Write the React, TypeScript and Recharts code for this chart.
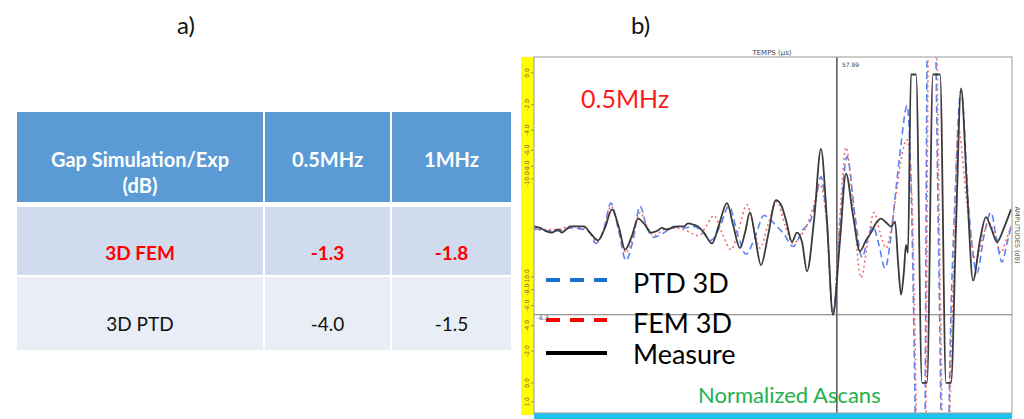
import React from 'react';
import { LineChart, Line, XAxis, YAxis, ReferenceLine } from 'recharts';

// Table a)
const tableHeader = ['Gap Simulation/Exp\n(dB)', '0.5MHz', '1MHz'];
const femRow = ['3D FEM', '-1.3', '-1.8'];
const ptdRow = ['3D PTD', '-4.0', '-1.5'];

// A-scans b) : time (µs) and normalized amplitude
const measureT = [37.8, 38.2, 38.6, 39.0, 39.4, 39.67, 39.93, 40.27, 40.67, 41.13, 41.53, 42.07, 42.53, 43.0, 43.47, 43.87, 44.33, 44.73, 45.2, 45.6, 46.0, 46.33, 46.67, 47.0, 47.4, 47.8, 48.07, 48.47, 48.73, 49.13, 49.67, 50.13, 50.67, 51.07, 51.53, 51.87, 52.2, 52.53, 52.93, 53.4, 53.93, 54.27, 54.6, 55.0, 55.33, 55.67, 56.0, 56.47, 56.93, 57.33, 57.73, 58.2, 58.6, 59.07, 59.53, 59.93, 60.27, 60.6, 60.93, 61.33, 61.6, 61.87, 62.07, 62.27, 62.47, 62.6, 62.73, 62.93, 63.27, 63.67, 64.0, 64.4, 64.87, 65.27, 65.6, 65.93, 66.27, 66.67, 67.07, 67.53, 67.93, 68.27, 68.67, 69.13, 69.6];
const measureA = [0.01, 0, -0.02, -0.03, -0.01, -0.03, -0.01, 0.01, 0.01, 0.01, -0.03, -0.08, 0, 0.12, 0, -0.14, -0.05, 0.06, 0.02, -0.03, -0.02, 0, -0.01, 0, 0.01, 0.01, 0.03, 0.02, 0.01, -0.03, -0.1, 0.02, 0.16, 0.02, -0.13, -0.03, 0.1, -0.05, -0.24, -0.05, 0.18, 0.15, 0.05, -0.09, -0.03, -0.09, -0.28, 0.05, 0.51, 0.05, -0.56, -0.08, 0.35, 0.08, -0.15, -0.08, -0.03, 0.03, 0.06, 0.03, 0.01, 0.04, -0.22, -0.43, -0.27, -0.11, -0.16, 0.99, 0.99, -1.0, -1.0, 0.99, 0.99, -1.0, -1.0, -0.01, 0.9, 0.25, -0.34, -0.08, 0.07, 0, -0.09, 0, 0.12];

const ptdT = [37.8, 38.6, 39.4, 40.2, 41.13, 41.53, 41.93, 42.47, 42.93, 43.47, 43.93, 44.4, 44.87, 45.33, 45.8, 46.47, 47.13, 47.8, 48.47, 49.07, 49.6, 50.2, 50.8, 51.4, 51.93, 52.53, 53.13, 53.8, 54.47, 55.07, 55.73, 56.2, 56.53, 56.93, 57.33, 57.73, 58.2, 58.67, 59.2, 59.67, 60.07, 60.4, 60.8, 61.2, 61.6, 61.93, 62.27, 62.67, 62.93, 63.2, 63.53, 63.87, 64.0, 64.33, 64.6, 64.93, 65.2, 65.47, 65.87, 66.27, 66.8, 67.33, 67.8, 68.27, 68.6, 69.0, 69.33, 69.6];
const ptdA = [0, -0.02, -0.02, 0, -0.01, -0.03, -0.1, 0, 0.16, -0.03, -0.21, -0.08, 0.14, 0, -0.06, -0.03, 0.01, 0, 0.01, -0.03, -0.08, 0.01, 0.14, -0.05, -0.17, -0.06, 0.08, 0.03, -0.04, -0.12, -0.01, 0.04, 0.15, 0.33, 0.02, -0.56, 0.02, 0.46, 0.08, -0.19, -0.06, 0.01, -0.11, -0.26, -0.05, 0.25, 0.54, 0.79, 0.31, -1.11, -3.5, -1.2, 1.1, 3.5, 1.1, -1.2, -3.5, -1.2, 0.2, 0.89, 0.1, -0.29, -0.05, 0.1, -0.05, -0.22, -0.1, 0.01];

const femT = [37.8, 38.6, 39.4, 40.2, 41.13, 41.53, 42.0, 42.47, 42.93, 43.47, 43.93, 44.4, 44.87, 45.33, 45.8, 46.47, 47.13, 47.8, 48.2, 48.8, 49.27, 49.8, 50.33, 50.93, 51.47, 52.0, 52.4, 52.87, 53.4, 54.0, 54.53, 55.07, 55.53, 56.0, 56.47, 56.87, 57.33, 57.73, 58.2, 58.6, 59.13, 59.6, 60.07, 60.47, 60.87, 61.27, 61.6, 61.93, 62.27, 62.67, 63.0, 63.27, 63.6, 63.93, 64.07, 64.4, 64.67, 65.0, 65.27, 65.53, 65.8, 66.07, 66.67, 67.27, 67.73, 68.13, 68.53, 68.93, 69.27, 69.6];
const femA = [-0.01, -0.01, -0.01, 0.01, 0, -0.03, -0.09, -0.01, 0.14, -0.01, -0.16, -0.05, 0.1, 0.01, -0.05, -0.01, 0, -0.01, -0.03, -0.05, 0.01, 0.08, -0.03, -0.14, 0, 0.15, 0.02, -0.13, 0.02, 0.17, 0.02, -0.1, -0.06, 0.02, 0.15, 0.28, 0.02, -0.56, 0.08, 0.52, 0.08, -0.32, -0.08, 0.1, -0.03, -0.13, -0.01, 0.21, 0.44, 0.57, 0.18, -1.11, -3.5, -1.2, 1.1, 3.5, 1.1, -1.2, -3.5, -1.2, -0.2, 0.65, 0.15, -0.21, -0.05, 0.03, -0.05, -0.16, -0.08, 0.01];

// amplitude ticks in dB (upper and lower half of the A-scan)
const dbTop = [0, -2, -4, -6, -8, -10];
const dbBottom = [-10, -8, -6, -4, -2, 0, 1];

const cursorTime = 57.99;
const cursorAmp = -0.56;

const toSeries = (ts: number[], as: number[]) => ts.map((t, i) => ({ t, a: as[i] }));
const measureData = toSeries(measureT, measureA);
const ptdData = toSeries(ptdT, ptdA);
const femData = toSeries(femT, femA);

const yTicks = [
  ...dbTop.map((d) => Math.pow(10, d / 20)),
  ...dbBottom.map((d) => -Math.pow(10, d / 20)),
];
const yLabels = [...dbTop, ...dbBottom].map((d) => d.toFixed(1));

const AmpTick = (props: any) => {
  const { y, payload } = props;
  const i = yTicks.findIndex((v) => Math.abs(v - payload.value) < 1e-6);
  return (
    <g>
      <text
        transform={`translate(9,${y}) rotate(-90)`}
        textAnchor="middle"
        fontSize={6}
        fill="#666"
        fontFamily="DejaVu Sans"
      >
        {yLabels[i]}
      </text>
      <line x1={11} x2={14} y1={y} y2={y} stroke="#777" strokeWidth={0.8} />
    </g>
  );
};

const abs = (l: number, t: number, extra: React.CSSProperties = {}): React.CSSProperties => ({
  position: 'absolute',
  left: l,
  top: t,
  ...extra,
});

const cols = [
  { x: 17, w: 246 },
  { x: 265, w: 125 },
  { x: 392, w: 119 },
];

const App = () => {
  return (
    <div
      style={{
        position: 'absolute',
        left: 0,
        top: 0,
        width: 1024,
        height: 419,
        overflow: 'hidden',
        background: '#fff',
        fontFamily: 'Lato, sans-serif',
      }}
    >
      <div style={abs(177, 13, { fontSize: 24, lineHeight: 1, color: '#111' })}>a)</div>
      <div style={abs(631, 13, { fontSize: 24, lineHeight: 1, color: '#111' })}>b)</div>

      {/* table */}
      {cols.map((c, i) => (
        <React.Fragment key={i}>
          <div style={abs(c.x, 112, { width: c.w, height: 90, background: '#5b9bd5' })} />
          <div style={abs(c.x, 207, { width: c.w, height: 68, background: '#d0dbee' })} />
          <div style={abs(c.x, 277, { width: c.w, height: 73, background: '#e9edf6' })} />
          <div
            style={abs(c.x, 146, {
              width: c.w,
              textAlign: 'center',
              color: '#fff',
              fontWeight: 700,
              fontSize: 20,
              lineHeight: '26px',
              whiteSpace: 'pre',
            })}
          >
            {tableHeader[i]}
          </div>
          <div
            style={abs(c.x, 243, {
              width: c.w,
              textAlign: 'center',
              color: '#ff0000',
              fontWeight: 700,
              fontSize: 19,
              lineHeight: 1,
            })}
          >
            {femRow[i]}
          </div>
          <div
            style={abs(c.x, 314, {
              width: c.w,
              textAlign: 'center',
              color: '#111',
              fontSize: 19,
              lineHeight: 1,
            })}
          >
            {ptdRow[i]}
          </div>
        </React.Fragment>
      ))}

      {/* A-scan */}
      <div style={abs(521, 57, { width: 13, height: 358, background: '#ffff00' })} />
      <div style={abs(534, 413, { width: 478, height: 6, background: '#1cc4ee' })} />
      <div style={abs(520, 40)}>
        <LineChart width={504} height={379} margin={{ top: 17, right: 12, bottom: 6, left: 0 }}>
          <XAxis dataKey="t" type="number" domain={[37.8, 69.667]} allowDataOverflow hide />
          <YAxis
            type="number"
            domain={[-1.194, 1.103]}
            allowDataOverflow
            ticks={yTicks}
            tick={<AmpTick />}
            axisLine={false}
            tickLine={false}
            width={14}
            interval={0}
          />
          <ReferenceLine x={cursorTime} stroke="#555" strokeWidth={1.5} />
          <ReferenceLine y={cursorAmp} stroke="#777" strokeWidth={1} />
          <Line
            data={ptdData}
            dataKey="a"
            type="monotone"
            stroke="#5b82f0"
            strokeWidth={1.6}
            strokeDasharray="7 4"
            dot={false}
            isAnimationActive={false}
          />
          <Line
            data={femData}
            dataKey="a"
            type="monotone"
            stroke="#f26d6d"
            strokeWidth={1.6}
            strokeDasharray="2 3"
            dot={false}
            isAnimationActive={false}
          />
          <Line
            data={measureData}
            dataKey="a"
            type="monotone"
            stroke="#3a3a3a"
            strokeWidth={1.8}
            dot={false}
            isAnimationActive={false}
          />
        </LineChart>
      </div>

      <svg width={1024} height={419} style={abs(0, 0, { pointerEvents: 'none' })}>
        <rect x={534} y={57} width={478} height={356} fill="none" stroke="#999" strokeWidth={1} />
        <line x1={546} x2={607} y1={280} y2={280} stroke="#1a6fcc" strokeWidth={4} strokeDasharray="14 10" />
        <line x1={546} x2={607} y1={320} y2={320} stroke="#ff0000" strokeWidth={4} strokeDasharray="14 10" />
        <line x1={546} x2={607} y1={353} y2={353} stroke="#000" strokeWidth={4} />
        <text x={772} y={55} textAnchor="middle" fontSize={7} fill="#444" fontFamily="DejaVu Sans">
          TEMPS (µs)
        </text>
        <text x={842} y={67} fontSize={6} fill="#444" fontFamily="DejaVu Sans">
          57.99
        </text>
        <text x={537} y={320} fontSize={6} fill="#444" fontFamily="DejaVu Sans">
          -6.3
        </text>
        <text
          transform="translate(1015,235) rotate(90)"
          textAnchor="middle"
          fontSize={6.5}
          fill="#555"
          fontFamily="DejaVu Sans"
        >
          AMPLITUDES (dB)
        </text>
      </svg>

      <div style={abs(581, 86, { fontSize: 25, lineHeight: 1, color: '#ff1a1a' })}>0.5MHz</div>
      <div style={abs(633, 269, { fontSize: 27, lineHeight: 1, color: '#000' })}>PTD 3D</div>
      <div style={abs(633, 309, { fontSize: 27, lineHeight: 1, color: '#000' })}>FEM 3D</div>
      <div style={abs(633, 340, { fontSize: 27, lineHeight: 1, color: '#000' })}>Measure</div>
      <div style={abs(698, 384, { fontSize: 22, lineHeight: 1, color: '#22b14c' })}>Normalized Ascans</div>
    </div>
  );
};

export default App;
